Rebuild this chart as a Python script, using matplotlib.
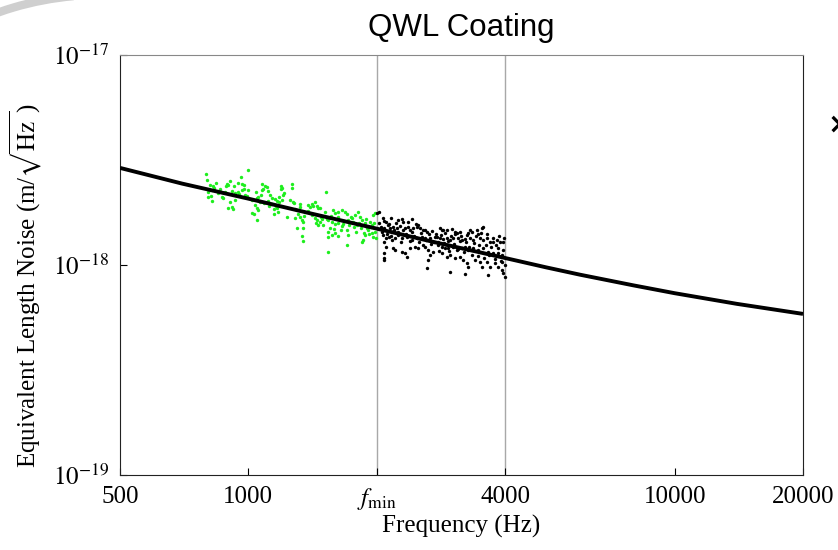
import matplotlib
matplotlib.use('Agg')
import matplotlib.pyplot as plt
from matplotlib.patches import Arc
import numpy as np

# noise values are in units of 1e-18 m/sqrt(Hz)
model_freq = [500, 700, 1000, 1400, 2000, 2800, 4000, 5000, 6000, 8000, 10000, 14000, 20000]
model_noise = [2.90, 2.44, 2.07, 1.76, 1.49, 1.27, 1.08, 0.974, 0.899, 0.80, 0.734, 0.653,
               0.585]

green_freq = [796, 999, 962, 813, 826, 831, 892, 887, 897, 946, 967, 978, 1078, 1095,
              1107, 1084, 1078, 1195, 1201, 805, 817, 805, 822, 849, 868, 873, 916, 931,
              946, 967, 983, 994, 906, 916, 921, 897, 931, 1055, 1049, 1066, 1038, 1049,
              1055, 1021, 1032, 1049, 1125, 1137, 1156, 1169, 1182, 1201, 1214, 1137, 1150,
              1169, 1175, 1150, 1119, 1113, 1268, 1268, 1522, 1275, 1282, 1323, 1382, 1397,
              1412, 1435, 1451, 1459, 1474, 1303, 1309, 1323, 1289, 1337, 1344, 1303, 1344,
              1337, 1344, 1412, 1435, 1451, 1474, 1490, 1459, 1498, 1581, 1599, 1625, 1661,
              1688, 1706, 1539, 1573, 1599, 1625, 1661, 1670, 1556, 1539, 1573, 1539, 1599,
              1625, 1539, 1715, 1753, 1781, 1810, 1830, 1762, 1800, 1706, 1715, 1706, 1850,
              1880, 1900, 1911, 1932, 1953, 1963, 1850, 1860, 1880, 1953, 1963, 1985, 1985,
              1208, 1190,
              800, 820, 840, 860, 880, 905, 925, 950, 975, 1000, 1020, 1045, 1070, 1090,
              1110, 1130, 1160, 1180, 1230, 1250, 1290, 1320, 1350, 1380, 1420, 1440, 1480,
              1510, 1530, 1560, 1590, 1620, 1650, 1680, 1720, 1740, 1770, 1790, 1820, 1840,
              1870, 1890, 1920, 1940, 1970, 1995]
green_noise = [2.71, 2.83, 2.62, 2.40, 2.38, 2.33, 2.43, 2.38, 2.40, 2.46, 2.43, 2.40, 2.43,
               2.38, 2.35, 2.30, 2.28, 2.38, 2.33, 2.23, 2.13, 2.11, 2.02, 2.20, 2.11, 2.09,
               2.25, 2.20, 2.23, 2.28, 2.16, 2.13, 2.00, 1.89, 1.85, 1.87, 2.04, 2.11, 2.09,
               2.00, 1.93, 1.87, 1.83, 1.77, 1.75, 1.64, 2.16, 2.09, 2.06, 2.02, 2.00, 2.04,
               2.20, 1.95, 1.85, 1.87, 1.79, 1.75, 1.91, 2.02, 2.43, 2.33, 2.23, 2.00, 1.97,
               1.89, 1.93, 1.89, 1.95, 2.00, 1.91, 1.87, 1.87, 1.83, 1.75, 1.69, 1.67, 1.64,
               1.60, 1.50, 1.50, 1.38, 1.30, 1.73, 1.67, 1.64, 1.60, 1.66, 1.55, 1.55, 1.83,
               1.77, 1.79, 1.83, 1.79, 1.75, 1.64, 1.60, 1.57, 1.59, 1.54, 1.57, 1.50, 1.44,
               1.39, 1.36, 1.42, 1.38, 1.15, 1.64, 1.67, 1.73, 1.79, 1.69, 1.60, 1.55, 1.47,
               1.39, 1.25, 1.64, 1.59, 1.50, 1.47, 1.60, 1.55, 1.73, 1.29, 1.32, 1.39, 1.42,
               1.36, 1.77, 1.44, 2.16, 2.30,
               2.55, 2.28, 2.45, 2.31, 2.22, 2.52, 2.37, 2.18, 2.30, 2.27, 2.05, 2.22, 2.15,
               1.98, 2.25, 1.95, 1.92, 2.10, 1.70, 2.05, 1.85, 1.96, 1.72, 1.80, 1.90, 1.58,
               1.70, 1.78, 1.66, 1.72, 1.48, 1.70, 1.46, 1.62, 1.55, 1.70, 1.52, 1.43, 1.58,
               1.50, 1.42, 1.66, 1.40, 1.52, 1.58, 1.35]

black_freq = [2022, 2000, 2066, 2100, 2166, 2249, 2296, 2308, 2423, 2043, 2077, 2122, 2155,
              2190, 2237, 2271, 2333, 2371, 2397, 2436, 2489, 2503, 2531, 2572, 2628, 2066,
              2100, 2134, 2178, 2213, 2249, 2296, 2358, 2423, 2489, 2558, 2600, 2671, 2744,
              2788, 2077, 2100, 2190, 2213, 2296, 2333, 2358, 2397, 2463, 2503, 2600, 2642,
              2671, 2642, 2714, 2628, 2077, 2077, 3538, 3443, 3352, 3261, 3462, 2819, 2865,
              2927, 3008, 3057, 3090, 2773, 2819, 2865, 2927, 2976, 3024, 3107, 3175, 3226,
              3316, 3370, 3500, 3557, 3634, 3694, 3754, 3836, 3899, 3962, 2788, 2849, 2896,
              2943, 3024, 3090, 3175, 3226, 3279, 3370, 3462, 3557, 3654, 3754, 3857, 3941,
              2849, 2927, 2976, 3057, 3141, 3192, 3261, 3279, 3406, 3500, 3538, 3634, 3694,
              3795, 3857, 3941, 3962, 3990, 2976, 3226, 3654, 3557, 3316, 2849, 3141, 2077,
              3941,
              2030, 2055, 2085, 2110, 2140, 2160, 2195, 2220, 2245, 2280, 2310, 2340, 2365,
              2390, 2415, 2450, 2470, 2510, 2540, 2565, 2590, 2615, 2650, 2680, 2700, 2730,
              2760, 2800, 2830, 2870, 2900, 2935, 2960, 2990, 3030, 3060, 3100, 3130, 3160,
              3200, 3240, 3270, 3300, 3340, 3380, 3420, 3450, 3480, 3520, 3570, 3600, 3630,
              3670, 3710, 3740, 3780, 3810, 3850, 3880, 3920, 3950, 3975, 3995]
black_noise = [1.79, 1.77, 1.67, 1.60, 1.67, 1.64, 1.66, 1.60, 1.66, 1.52, 1.50, 1.55, 1.50,
               1.52, 1.50, 1.54, 1.50, 1.52, 1.47, 1.50, 1.52, 1.55, 1.50, 1.47, 1.44, 1.39,
               1.35, 1.36, 1.32, 1.35, 1.39, 1.35, 1.36, 1.32, 1.35, 1.36, 1.35, 1.35, 1.36,
               1.29, 1.28, 1.22, 1.21, 1.18, 1.15, 1.14, 1.09, 1.21, 1.22, 1.21, 1.22, 1.18,
               1.12, 1.06, 1.15, 0.97, 1.14, 1.08, 1.50, 1.47, 1.44, 1.39, 1.41, 1.50, 1.47,
               1.46, 1.49, 1.44, 1.42, 1.36, 1.35, 1.33, 1.35, 1.32, 1.35, 1.35, 1.32, 1.33,
               1.35, 1.32, 1.35, 1.32, 1.35, 1.29, 1.29, 1.32, 1.29, 1.29, 1.25, 1.22, 1.21,
               1.21, 1.22, 1.18, 1.21, 1.22, 1.18, 1.21, 1.18, 1.21, 1.15, 1.14, 1.14, 1.12,
               1.14, 1.09, 1.12, 1.08, 1.09, 1.06, 1.02, 0.98, 1.06, 1.03, 0.98, 1.03, 0.98,
               1.02, 0.98, 1.03, 0.92, 0.88, 0.93, 0.91, 0.90, 1.52, 1.47, 1.47, 1.44, 1.06,
               0.95,
               1.58, 1.44, 1.62, 1.41, 1.56, 1.38, 1.46, 1.58, 1.43, 1.28, 1.47, 1.40, 1.61,
               1.30, 1.44, 1.38, 1.57, 1.29, 1.42, 1.25, 1.47, 1.31, 1.40, 1.26, 1.45, 1.29,
               1.41, 1.17, 1.39, 1.27, 1.42, 1.30, 1.16, 1.38, 1.26, 1.40, 1.19, 1.30, 1.37,
               1.15, 1.28, 1.42, 1.22, 1.12, 1.27, 1.38, 1.10, 1.25, 1.42, 1.08, 1.24, 1.40,
               1.12, 1.22, 1.35, 1.07, 1.25, 1.20, 1.37, 1.05, 1.18, 1.34, 1.00]

tick_freq = [500, 1000, 2000, 4000, 10000, 20000]
tick_labels = ['500', '1000', r'$f_{\rm min}$', '4000', '10000', '20000']
band_edges = [2000, 4000]

plt.rcParams['font.family'] = ['Liberation Serif', 'DejaVu Serif']
plt.rcParams['mathtext.fontset'] = 'stix'

unit = 1e-18
fig = plt.figure(figsize=(8.38, 5.5), dpi=100)
ax = fig.add_axes([120 / 838, 75 / 550, 683 / 838, 420 / 550])

for f in band_edges:
    ax.axvline(f, color='#a8a8a8', lw=1.0, zorder=1)

ax.scatter(green_freq, np.array(green_noise) * unit, s=6, color='#1eee1e',
           linewidths=0, zorder=2)
ax.scatter(black_freq, np.array(black_noise) * unit, s=6, color='black',
           linewidths=0, zorder=2)
ax.plot(model_freq, np.array(model_noise) * unit, color='black', lw=2.8, zorder=3,
        solid_capstyle='butt')

ax.set_xscale('log')
ax.set_yscale('log')
ax.set_xlim(500, 20000)
ax.set_ylim(1e-19, 1e-17)
ax.set_xticks(tick_freq)
ax.set_xticklabels(tick_labels)
ax.xaxis.set_minor_locator(matplotlib.ticker.NullLocator())
ax.yaxis.set_minor_locator(matplotlib.ticker.NullLocator())
ax.set_yticks([1e-19, 1e-18, 1e-17])
ax.set_yticklabels([r'$10^{-19}$', r'$10^{-18}$', r'$10^{-17}$'])
ax.tick_params(direction='in', length=5, width=0.8, labelsize=18, pad=8)

for side in ['left', 'bottom', 'right']:
    ax.spines[side].set_color('#222222')
ax.spines['top'].set_color('#888888')

ax.set_xlabel('Frequency (Hz)', fontsize=18, labelpad=2)
ax.set_ylabel(r'Equivalent Length Noise (m/$\sqrt{\mathrm{Hz}\ }$)', fontsize=18)
ax.yaxis.set_label_coords(-0.112, 0.452)
fig.text((120 + 803) / 2 / 838, 1 - 28 / 550, 'QWL Coating', ha='center', va='center',
         fontsize=22.5, family='Liberation Sans')

# screenshot decorations
fig.add_artist(Arc((1.0, 2.5), 6.1, 6.1, theta1=95, theta2=118, lw=6,
                   color='#cfcfcf', transform=fig.dpi_scale_trans))
fig.text(839 / 838, 1 - 125 / 550, '\u00d7', ha='center', va='center', fontsize=20,
         fontweight='bold', family='DejaVu Sans')

fig.savefig('out.png', dpi=100)
